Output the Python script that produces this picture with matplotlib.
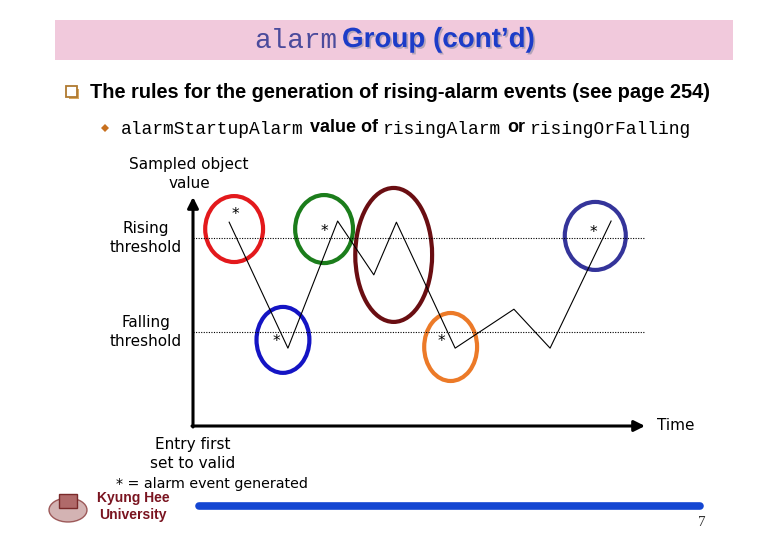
import numpy as np
import matplotlib.pyplot as plt
from matplotlib.patches import Ellipse, Rectangle, Polygon
import matplotlib.patheffects as pe

# sampled object value over time (chart units: time 0-100, value 0-100)
sample_time = [8, 21, 32, 40, 45, 58, 71, 79, 92.5]
sample_value = [89, 34, 89.5, 66, 89, 34, 51, 34, 89.5]
rising_threshold = 82
falling_threshold = 41

# alarm events ('*')
event_time = [9.3, 29.0, 18.4, 54.9, 88.5]
event_value = [92.5, 85.0, 37.0, 37.0, 84.5]

# highlight circles: centre time, centre value, width, height
circle_time = [9.1, 29.0, 44.4, 19.9, 57.0, 89.0]
circle_value = [86.0, 86.0, 74.7, 37.6, 34.5, 83.0]
circle_w = [12.8, 12.8, 17.0, 11.7, 11.7, 13.5]
circle_h = [28.8, 29.7, 58.5, 28.8, 29.7, 29.7]
circle_colors = ['#e3191c', '#1b7d1b', '#6a0e12', '#1414c4', '#ec7a28', '#34349a']

W, H = 780, 540
fig = plt.figure(figsize=(W / 100, H / 100), dpi=100)

# whole-slide axes in pixel coordinates
bg = fig.add_axes([0, 0, 1, 1])
bg.set_xlim(0, W)
bg.set_ylim(H, 0)
bg.axis('off')

# title band
bg.add_patch(Rectangle((55, 20), 678, 40, facecolor='#f1c9dc', edgecolor='none'))
bg.text(337, 41, 'alarm', family='Liberation Mono', fontsize=20, color='#4b4b9c',
        ha='right', va='center')
bg.text(342, 40, 'Group (cont\u2019d)', family='Liberation Sans', fontsize=20,
        fontweight='bold', color='#1c3cc8', ha='left', va='center',
        path_effects=[pe.withSimplePatchShadow(offset=(1.2, -1.2), shadow_rgbFace='#8a8aa0', alpha=0.6)])

# main bullet
bg.add_patch(Rectangle((69, 89), 10, 10, facecolor='#d9a860', edgecolor='none'))
bg.add_patch(Rectangle((66, 86), 11, 11, facecolor='white', edgecolor='#b07a30', lw=1.3))
bg.text(90, 92, 'The rules for the generation of rising-alarm events (see page 254)',
        family='Liberation Sans', fontsize=14.4, fontweight='bold', color='black',
        ha='left', va='center')

# sub bullet
bg.add_patch(Polygon([(105, 124), (109, 128), (105, 132), (101, 128)], closed=True,
                     facecolor='#c8701e', edgecolor='none'))
mono = dict(family='Liberation Mono', fontsize=12.9, color='black', ha='left', va='center')
bold = dict(family='Liberation Sans', fontsize=13, fontweight='bold', color='black',
            ha='left', va='center')
bg.text(121, 129, 'alarmStartupAlarm', **mono)
bg.text(310, 128, 'value of', **bold)
bg.text(383, 129, 'risingAlarm', **mono)
bg.text(507, 128, 'or', **bold)
bg.text(530, 129, 'risingOrFalling', **mono)

# chart axes: x pixels 193-645, y pixels 197-426
x0, x1, y0, y1 = 193, 645, 197, 426
ax = fig.add_axes([x0 / W, (H - y1) / H, (x1 - x0) / W, (y1 - y0) / H])
ax.set_xlim(0, 100)
ax.set_ylim(0, 100)
ax.axis('off')

# axes with arrows
bg.annotate('', xy=(x0, y0), xytext=(x0, y1 + 1),
            arrowprops=dict(arrowstyle='-|>', lw=2.2, color='black', mutation_scale=16,
                            shrinkA=0, shrinkB=0))
bg.annotate('', xy=(x1, y1), xytext=(x0 - 1, y1),
            arrowprops=dict(arrowstyle='-|>', lw=2.2, color='black', mutation_scale=16,
                            shrinkA=0, shrinkB=0))

ax.axhline(rising_threshold, xmin=0, xmax=1, color='black', lw=0.8, ls=(0, (1, 1.3)))
ax.axhline(falling_threshold, xmin=0, xmax=1, color='black', lw=0.8, ls=(0, (1, 1.3)))

ax.plot(sample_time, sample_value, color='black', lw=0.8, clip_on=False)

for t, v in zip(event_time, event_value):
    ax.text(t, v, '*', fontsize=11, ha='center', va='center', color='black',
            family='DejaVu Sans')

for t, v, w, h, c in zip(circle_time, circle_value, circle_w, circle_h, circle_colors):
    ax.add_patch(Ellipse((t, v), w, h, fill=False, edgecolor=c, lw=3, clip_on=False))

lab = dict(family='DejaVu Sans', fontsize=11, color='black', ha='center', va='center',
           linespacing=1.25)
bg.text(189, 174, 'Sampled object\nvalue', **lab)
bg.text(146, 238, 'Rising\nthreshold', **lab)
bg.text(146, 332, 'Falling\nthreshold', **lab)
bg.text(193, 454, 'Entry first\nset to valid', **lab)
bg.text(212, 484, '* = alarm event generated', family='DejaVu Sans', fontsize=10.3,
        color='black', ha='center', va='center')
bg.text(657, 425, 'Time', family='DejaVu Sans', fontsize=11, ha='left', va='center')

# footer
bg.plot([199, 700], [506, 506], color='#1446d2', lw=5.5, solid_capstyle='round')
bg.text(702, 523, '7', family='Liberation Serif', fontsize=11, color='#333333',
        ha='center', va='center')
bg.text(133, 498, 'Kyung Hee', family='Liberation Sans', fontsize=10, fontweight='bold',
        color='#7a1420', ha='center', va='center')
bg.text(133, 515, 'University', family='Liberation Sans', fontsize=10, fontweight='bold',
        color='#7a1420', ha='center', va='center')

# simple emblem
bg.add_patch(Ellipse((68, 510), 38, 24, facecolor='#c9a0a0', edgecolor='#8a3a3a', lw=1, alpha=0.8))
bg.add_patch(Rectangle((59, 494), 18, 14, facecolor='#b06a6a', edgecolor='#7a2a2a', lw=1))

fig.savefig('out.png', dpi=100)
